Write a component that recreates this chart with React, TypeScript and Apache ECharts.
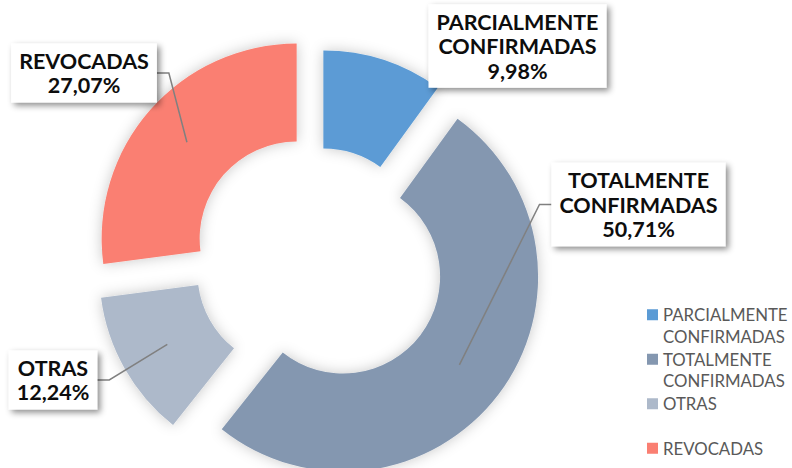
import React, { useEffect, useRef } from 'react';
import * as echarts from 'echarts';

// ---- data ----
const categories = ['PARCIALMENTE CONFIRMADAS', 'TOTALMENTE CONFIRMADAS', 'OTRAS', 'REVOCADAS'];
const values = [9.98, 50.71, 12.24, 27.07];

// ---- styles / layout ----
const colors = ['#5B9BD5', '#8497B0', '#ADB9CA', '#FA7F72'];
const explode = [13.5, 30, 28.5, 30];
const labelPos = [
  [517.5, 46],
  [638.5, 204.5],
  [53, 380],
  [84, 73],
];
const showLeader = [false, true, true, true];
const CENTER = [319.2, 258.4];
const R_IN = 97;
const R_OUT = 195;
const R_MID = (R_IN + R_OUT) / 2;

const total = values.reduce((a, b) => a + b, 0);
let acc = 0;
const mids = values.map((v) => {
  const m = ((acc + v / 2) / total) * 2 * Math.PI;
  acc += v;
  return m;
});
const centers = mids.map((m, i) => [
  CENTER[0] + explode[i] * Math.sin(m),
  CENTER[1] - explode[i] * Math.cos(m),
]);

const fmtPct = (p: number) => p.toFixed(2).replace('.', ',') + '%';

const basePie = {
  type: 'pie',
  radius: [R_IN, R_OUT],
  startAngle: 90,
  clockwise: true,
  avoidLabelOverlap: false,
  silent: true,
  emphasis: { disabled: true },
};

function buildOption(): any {
  const LH = 21.5;

  // one pie per slice (each exploded on its own), slices only
  const sliceSeries = categories.map((_, si) => ({
    ...basePie,
    z: 2,
    name: categories[si],
    center: centers[si],
    label: { show: false },
    labelLine: { show: false },
    data: categories.map((name, i) => ({
      name,
      value: values[i],
      itemStyle:
        i === si
          ? { color: colors[i], borderWidth: 0, shadowBlur: 14, shadowColor: 'rgba(0,0,0,0.22)' }
          : { color: 'transparent', borderWidth: 0, shadowBlur: 0 },
    })),
  }));

  // invisible pie carrying the labels and leader lines, drawn above the slices
  const labelSeries = {
    ...basePie,
    z: 5,
    name: 'labels',
    center: CENTER,
    itemStyle: { color: 'transparent', borderWidth: 0 },
    label: {
      show: true,
      position: 'outside',
      overflow: 'none',
      formatter: (p: any) => p.name.replace(' ', '\n') + '\n' + fmtPct(p.percent),
      fontFamily: 'Lato',
      fontWeight: 'bold',
      fontSize: 21.5,
      lineHeight: 24.5,
      color: '#0D0D0D',
      align: 'center',
      backgroundColor: '#ffffff',
      padding: [5, 8],
      shadowColor: 'rgba(0,0,0,0.45)',
      shadowBlur: 6,
      shadowOffsetX: 3,
      shadowOffsetY: 3,
      textBorderWidth: 0,
    },
    labelLine: {
      show: true,
      showAbove: true,
      lineStyle: { color: '#808080', width: 1.5 },
    },
    labelLayout: (p: any) => {
      const i = p.dataIndex;
      const lx = labelPos[i][0];
      const ly = labelPos[i][1];
      const res: any = { x: lx, y: ly, align: 'center', verticalAlign: 'middle' };
      if (showLeader[i]) {
        const m = mids[i];
        const ax = centers[i][0] + R_MID * Math.sin(m);
        const ay = centers[i][1] - R_MID * Math.cos(m);
        const half = p.labelRect.width / 2;
        const dir = ax > lx ? 1 : -1;
        const ex = lx + dir * half;
        res.labelLinePoints = [
          [ex, ly],
          [ex + dir * 12, ly],
          [ax, ay],
        ];
      }
      return res;
    },
    data: categories.map((name, i) => ({
      name,
      value: values[i],
      itemStyle: { color: 'transparent', borderWidth: 0 },
      labelLine: { show: showLeader[i], showAbove: true },
    })),
  };

  return {
    animation: false,
    backgroundColor: '#ffffff',
    legend: {
      orient: 'vertical',
      left: 647,
      top: 304,
      height: 300,
      padding: 0,
      itemGap: 1.5,
      itemWidth: 11,
      itemHeight: 11 + LH,
      icon: `path://M0,0H11V11H0Z M0,${11 + LH}H0.01V${11 + LH + 0.01}H0Z`,
      selectedMode: false,
      itemStyle: { borderWidth: 0 },
      formatter: (name: string) => (name.includes(' ') ? name.replace(' ', '\n') : name + '\n'),
      textStyle: {
        fontFamily: 'Lato',
        fontSize: 16.8,
        color: '#595959',
        lineHeight: LH,
      },
      data: categories.map((name, i) => ({ name, itemStyle: { color: colors[i], borderWidth: 0 } })),
    },
    series: [...sliceSeries, labelSeries],
  };
}

export default function App() {
  const ref = useRef<HTMLDivElement>(null);
  useEffect(() => {
    if (!ref.current) return;
    const chart = echarts.init(ref.current, undefined, { renderer: 'svg' });
    chart.setOption(buildOption());
    return () => chart.dispose();
  }, []);
  return (
    <div
      ref={ref}
      style={{ position: 'absolute', left: 0, top: 0, width: 792, height: 468 }}
    />
  );
}
